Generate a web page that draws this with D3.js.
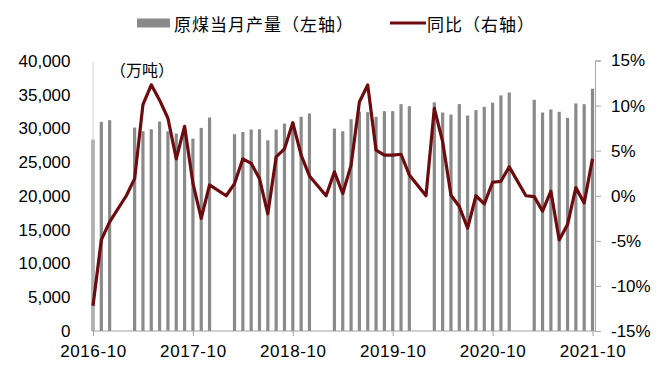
<!DOCTYPE html>
<html>
<head>
<meta charset="utf-8">
<script src="https://cdn.jsdelivr.net/npm/d3@7/dist/d3.min.js"></script>
<style>
  html, body { margin: 0; padding: 0; background: #fff; }
  svg { display: block; }
  text { font-family: "Liberation Sans", Arial, "Noto Sans CJK SC", sans-serif; }
  .cjk { font-family: "Noto Sans CJK SC", "Liberation Sans", sans-serif; }
</style>
</head>
<body>
<svg id="chart"></svg>
<script>
// monthly labels, 2016-10 .. 2021-10
const months = [];
for (let y = 2016, m = 10; y < 2021 || (y === 2021 && m <= 10); m++) {
  if (m > 12) { m = 1; y++; }
  if (y === 2021 && m > 10) break;
  months.push(y + "-" + String(m).padStart(2, "0"));
}

// 原煤当月产量 (万吨), Jan/Feb not published
const output = [
  28350, 30980, 31230, null, null, 30140, 29590, 29890, 31030, 29590, 29250, 30090,
  28500, 30090, 31630, null, null, 29150, 29490, 29840, 29890, 28250, 29840, 30730,
  30980, 31730, 32220, null, null, 29990, 29590, 31380, 32500, 32420, 31730, 32570,
  32570, 33610, 33310, null, null, 33860, 32370, 32070, 33610, 31920, 32720, 33210,
  33810, 34900, 35340, null, null, 34250, 32370, 32820, 32470, 31580, 33710, 33610,
  35890
];

// 同比 (%)
const yoy = [
  -12.2, -4.9, -2.9, null, 0, 1.9, 10.1, 12.3, 10.6, 8.6, 4.1, 7.7,
  1.4, -2.5, 1.2, null, 0, 1.35, 4.1, 3.6, 1.9, -2.0, 4.3, 5.2,
  8.1, 4.5, 2.2, null, 0, 2.65, 0.25, 3.4, 10.4, 12.3, 5.05, 4.5,
  4.5, 4.6, 2.3, null, 0, 9.7, 6.0, 0.05, -1.2, -3.6, 0, -0.9,
  1.5, 1.6, 3.2, null, 0, -0.1, -1.7, 0.5, -4.9, -3.2, 0.9, -0.8,
  4.1
];

const leftTicks = [0, 5000, 10000, 15000, 20000, 25000, 30000, 35000, 40000];
const rightTicks = [-15, -10, -5, 0, 5, 10, 15];
const xTickLabels = ["2016-10", "2017-10", "2018-10", "2019-10", "2020-10", "2021-10"];

const svgWidth = 668;
const svgHeight = 371;
const plotLeft = 92.5;
const plotRight = 595;
const plotTop = 61;
const plotBottom = 331;

const svg = d3.select("#chart")
  .attr("width", svgWidth)
  .attr("height", svgHeight);

const x = d3.scalePoint()
  .domain(months)
  .range([93, 592.5]);

const yLeft = d3.scaleLinear()
  .domain([0, 40000])
  .range([plotBottom, plotTop]);

const yRight = d3.scaleLinear()
  .domain([-15, 15])
  .range([plotBottom, plotTop - 0.5]);

const barWidth = 3.2;

// bars
svg.append("g")
  .selectAll("rect")
  .data(months.map((m, i) => ({ m, v: output[i] })).filter(d => d.v != null))
  .join("rect")
    .attr("x", d => x(d.m) - barWidth / 2)
    .attr("y", d => yLeft(d.v))
    .attr("width", barWidth)
    .attr("height", d => yLeft(0) - yLeft(d.v))
    .attr("fill", "#8a8a8a");

// left axis
svg.append("g")
  .attr("transform", `translate(${plotLeft},0)`)
  .call(d3.axisLeft(yLeft).tickValues(leftTicks).tickSize(0).tickPadding(22)
    .tickFormat(d3.format(",")))
  .call(g => g.select(".domain").attr("stroke", "#d4d4d4"))
  .call(g => g.selectAll("text")
    .attr("fill", "#000")
    .style("font-size", "17px"));

// right axis
svg.append("g")
  .attr("transform", `translate(${plotRight},0)`)
  .call(d3.axisRight(yRight).tickValues(rightTicks).tickSize(6).tickPadding(10)
    .tickFormat(d => d + "%"))
  .call(g => g.select(".domain").attr("stroke", "#a6a6a6"))
  .call(g => g.selectAll(".tick line").attr("stroke", "#a6a6a6"))
  .call(g => g.selectAll("text")
    .attr("fill", "#000")
    .style("font-size", "17px"));

// bottom axis
svg.append("g")
  .attr("transform", `translate(0,${plotBottom})`)
  .call(d3.axisBottom(x).tickValues(xTickLabels).tickSize(5).tickPadding(9).tickSizeOuter(0))
  .call(g => g.select(".domain")
    .attr("d", `M${plotLeft},0H${plotRight}`)
    .attr("stroke", "#a0a0a0"))
  .call(g => g.selectAll(".tick line").attr("stroke", "#a0a0a0"))
  .call(g => g.selectAll("text")
    .attr("fill", "#000")
    .style("font-size", "17px")
    .style("letter-spacing", "0.6px"));

// yoy line, connecting across the missing January points
const linePts = months.map((m, i) => ({ m, v: yoy[i] })).filter(d => d.v != null);
const line = d3.line()
  .x(d => x(d.m))
  .y(d => yRight(d.v));

svg.append("path")
  .datum(linePts)
  .attr("fill", "none")
  .attr("stroke", "#6e0b0e")
  .attr("stroke-width", 3.2)
  .attr("stroke-linejoin", "round")
  .attr("d", line);

// unit label
svg.append("text")
  .attr("class", "cjk")
  .attr("x", 110)
  .attr("y", 69)
  .attr("dominant-baseline", "central")
  .style("font-size", "16px")
  .attr("fill", "#000")
  .text("（万吨）");

// legend
const legendY = 23;
svg.append("rect")
  .attr("x", 137).attr("y", legendY - 4.5)
  .attr("width", 33).attr("height", 9)
  .attr("fill", "#8a8a8a");
svg.append("text")
  .attr("class", "cjk")
  .attr("x", 174).attr("y", legendY)
  .attr("dominant-baseline", "central")
  .style("font-size", "17px")
  .style("letter-spacing", "1px")
  .attr("fill", "#000")
  .text("原煤当月产量（左轴）");
svg.append("line")
  .attr("x1", 390).attr("x2", 426)
  .attr("y1", legendY).attr("y2", legendY)
  .attr("stroke", "#6e0b0e")
  .attr("stroke-width", 3);
svg.append("text")
  .attr("class", "cjk")
  .attr("x", 427).attr("y", legendY)
  .attr("dominant-baseline", "central")
  .style("font-size", "17px")
  .style("letter-spacing", "1px")
  .attr("fill", "#000")
  .text("同比（右轴）");
</script>
</body>
</html>
